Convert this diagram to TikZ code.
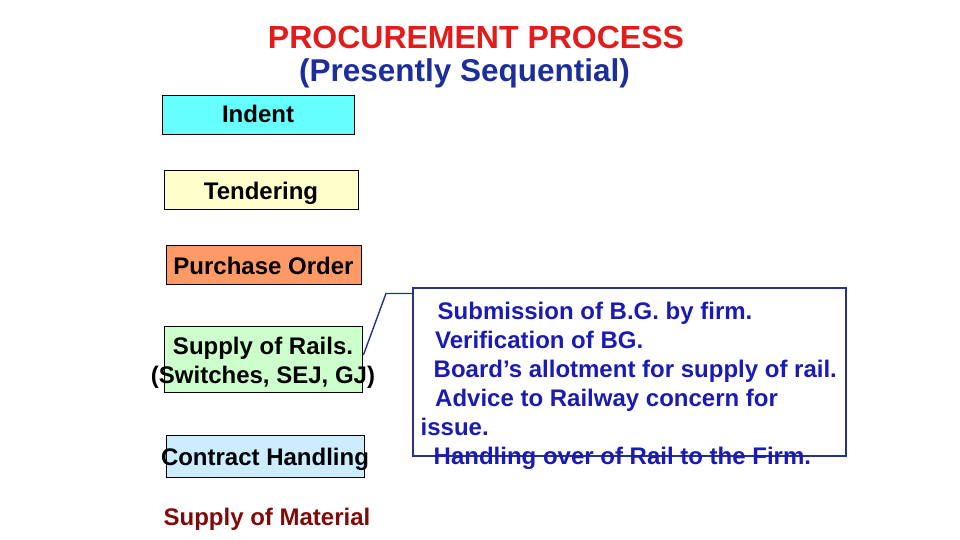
\documentclass[tikz,border=0pt]{standalone}
\usepackage{fontspec}
\setmainfont{Liberation Sans}
\usepackage{xcolor}
\usetikzlibrary{positioning,calc}

\definecolor{indentcyan}{HTML}{66FFFF}
\definecolor{tendyellow}{HTML}{FFFFCC}
\definecolor{orderorange}{HTML}{FF9966}
\definecolor{railgreen}{HTML}{CCFFCC}
\definecolor{contractblue}{HTML}{CCECFF}
\definecolor{titlered}{HTML}{E41B1B}
\definecolor{subblue}{HTML}{1C2E9C}
\definecolor{noteblue}{HTML}{1A1AB4}
\definecolor{edgenavy}{HTML}{25338A}
\definecolor{materialred}{HTML}{7F0A0A}

% zero-size text, baseline #1 below the node centre
\newcommand{\zw}[2]{\makebox[0pt]{\raisebox{-#1}[0pt][0pt]{#2}}}

\begin{document}
\begin{tikzpicture}[
    x=1pt, y=-1pt,
    stage/.style={rectangle, draw=black, line width=0.8pt, inner sep=0pt, align=center,
      font=\fontsize{24}{28.4}\selectfont\bfseries},
    notebox/.style={rectangle, draw=edgenavy, line width=1.4pt, inner sep=0pt},
    notetext/.style={anchor=north west, inner sep=0pt, align=left, text=noteblue,
      font=\fontsize{24}{29}\selectfont\bfseries},
    pointer/.style={draw=edgenavy, line width=1.4pt}
  ]
    \useasboundingbox (0,0) rectangle (960,540);

    % Title
    \node[text=titlered, font=\fontsize{32}{36}\selectfont\bfseries] (title) at (476,37) {PROCUREMENT PROCESS};
    \node[text=subblue, font=\fontsize{31.5}{36}\selectfont\bfseries] (subtitle) at (464.5,73.5) {(Presently Sequential)};

    % Stages
    \node[stage, fill=indentcyan, minimum width=192, minimum height=39] (indent) at (258,114.5) {\zw{8.3pt}{Indent}};
    \node[stage, fill=tendyellow, minimum width=194, minimum height=39] (tender) at (261,189.5) {\zw{9.5pt}{Tendering}};
    \node[stage, fill=orderorange, minimum width=195, minimum height=39] (order) at (263.5,264.5) {\zw{9.7pt}{Purchase Order}};
    \node[stage, fill=railgreen, minimum width=198, minimum height=66] (rails) at (263,359) {\zw{9.5pt}{Supply of Rails.}\\\zw{10.5pt}{(Switches, SEJ, GJ)}};
    \node[stage, fill=contractblue, minimum width=198, minimum height=42] (contract) at (265,456) {\zw{9.7pt}{Contract Handling}};
    \node[text=materialred, font=\fontsize{24}{29}\selectfont\bfseries] (material) at (267,519.5) {Supply of Material};

    % Callout
    \node[notebox, minimum width=433, minimum height=168] (notes) at (629.5,372) {};
    \node[notetext] (notelines) at (420.5,302) {\hspace*{17pt}Submission of B.G. by firm.\\
      \hspace*{14.5pt}Verification of BG.\\
      \hspace*{13pt}Board’s allotment for supply of rail.\\
      \hspace*{14.5pt}Advice to Railway concern for\\
      issue.\\
      \hspace*{13pt}Handling over of Rail to the Firm.};
    \coordinate (tip) at ($(rails.east)+(1,-4)$);
    \coordinate (bend) at (386,293.5);
    \draw[pointer] (tip) -- (bend) -- (bend -| notes.west);

  \end{tikzpicture}
\end{document}
